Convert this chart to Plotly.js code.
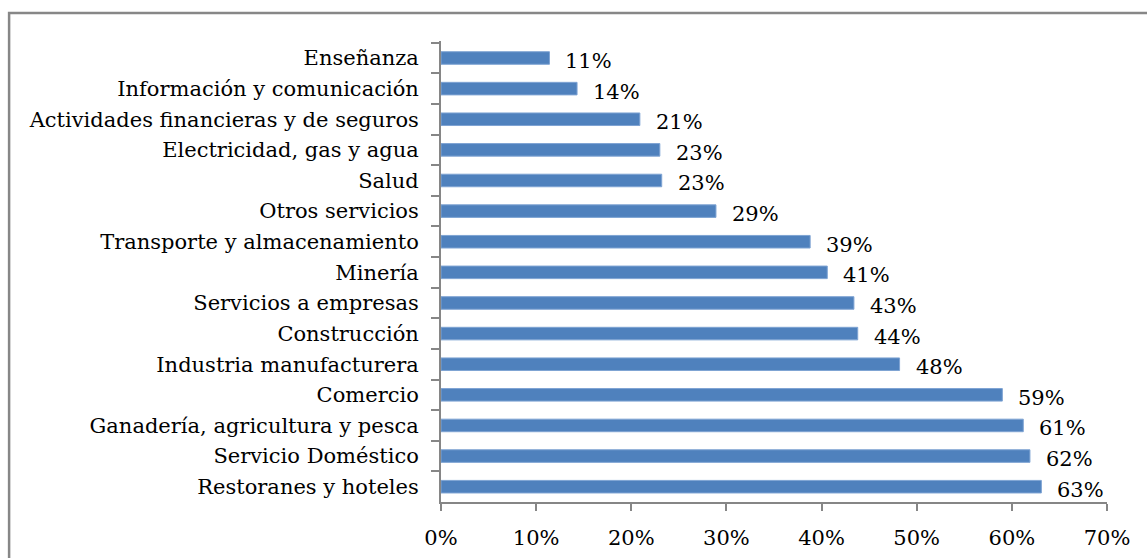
<!DOCTYPE html>
<html>
<head>
<meta charset="utf-8">
<script src="https://cdn.plot.ly/plotly-3.0.1.min.js"></script>
<style>html,body{margin:0;padding:0;background:#fff;}#chart{width:1147px;height:558px;}</style>
</head>
<body>
<div id="chart"></div>
<script>
const categories = [
  "Enseñanza",
  "Información y comunicación",
  "Actividades financieras y de seguros",
  "Electricidad, gas y agua",
  "Salud",
  "Otros servicios",
  "Transporte y almacenamiento",
  "Minería",
  "Servicios a empresas",
  "Construcción",
  "Industria manufacturera",
  "Comercio",
  "Ganadería, agricultura y pesca",
  "Servicio Doméstico",
  "Restoranes y hoteles"
];
const values = [11.4, 14.3, 20.9, 23.0, 23.2, 28.9, 38.8, 40.6, 43.4, 43.8, 48.2, 59.0, 61.2, 61.9, 63.1];
const xTicks = [0, 10, 20, 30, 40, 50, 60, 70];

const FONT = "DejaVu Serif";
const annotations = categories.map((c, i) => ({
  x: values[i], y: c, xref: "x", yref: "y",
  text: Math.round(values[i]) + "%",
  showarrow: false, xanchor: "left", yanchor: "middle",
  xshift: 14, yshift: -3,
  font: {family: FONT, size: 21, color: "#000"}
}));

const trace = {
  type: "bar", orientation: "h",
  x: values, y: categories,
  marker: {color: "#4f81bd", line: {color: "#7ea3d3", width: 1}},
  hoverinfo: "skip"
};

const layout = {
  width: 1147, height: 558,
  margin: {l: 441, r: 40, t: 41, b: 56},
  paper_bgcolor: "#fff", plot_bgcolor: "#fff",
  showlegend: false,
  bargap: 0.59,
  font: {family: FONT, size: 21, color: "#000"},
  xaxis: {
    range: [0, 70], tickvals: xTicks, ticktext: xTicks.map(v => v + "%"),
    showgrid: false, zeroline: false,
    showline: true, linecolor: "#868686", linewidth: 2,
    ticks: "outside", ticklen: 7, tickwidth: 2, tickcolor: "#868686",
    ticklabelstandoff: 9,
    tickfont: {family: FONT, size: 21, color: "#000"}
  },
  yaxis: {
    type: "category", autorange: "reversed",
    showgrid: false, zeroline: false,
    showline: true, linecolor: "#868686", linewidth: 2,
    ticks: "outside", ticklen: 8, tickwidth: 2, tickcolor: "#868686",
    tickson: "boundaries", ticklabelstandoff: 16,
    tickfont: {family: FONT, size: 21, color: "#000"}
  },
  annotations: annotations,
  shapes: [{
    type: "rect", xref: "paper", yref: "paper",
    x0: -0.6485, x1: 1.3, y0: -0.3, y1: 1.0607,
    line: {color: "#878787", width: 2.5}, layer: "above"
  }]
};

Plotly.newPlot("chart", [trace], layout, {displayModeBar: false, staticPlot: true});
</script>
</body>
</html>
